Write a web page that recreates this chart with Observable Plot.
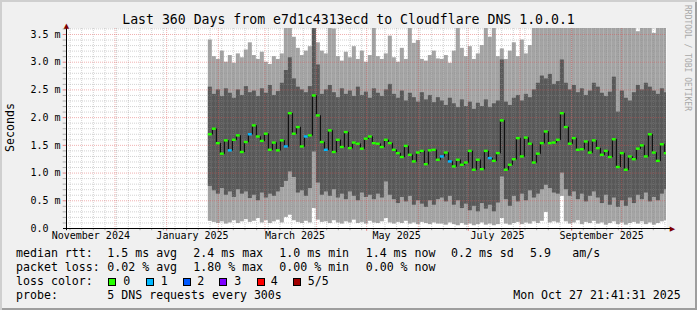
<!DOCTYPE html>
<html><head><meta charset="utf-8">
<script src="https://cdn.jsdelivr.net/npm/d3@7"></script>
<script src="https://cdn.jsdelivr.net/npm/@observablehq/plot@0.6"></script>
<style>
html,body{margin:0;padding:0;background:#f0f0f0;}
#wrap{position:relative;width:697px;height:310px;background:#f0f0f0;overflow:hidden;font-family:"DejaVu Sans Mono",monospace;color:#000;box-shadow:inset 2px 2px 0 #cfcfcf, inset -2px -2px 0 #9e9e9e;}
#chart{position:absolute;left:0;top:0;}
.t{position:absolute;white-space:pre;line-height:1;}
.lg{font-size:11.6px;}
.box{position:absolute;width:6px;height:6px;border:1px solid #000;top:278px;}
</style></head><body>
<div id="wrap">
  <div id="chart"></div>
  <div class="t" style="left:0;width:697px;text-align:center;top:12.8px;font-size:13.2px;">Last 360 Days from e7d1c4313ecd to Cloudflare DNS 1.0.0.1</div>
  <div class="t lg" style="left:5.2px;top:152px;transform:rotate(-90deg);transform-origin:0 0;">Seconds</div>
  <div class="t" style="left:691.3px;top:5px;font-size:8px;color:#a8a8a8;transform:rotate(90deg);transform-origin:0 0;">RRDTOOL / TOBI OETIKER</div>
  <div id="legend"></div>
</div>
<script>
// ---------------- data ----------------
const xStart = new Date("2024-11-01T21:41:31Z");
const xEnd = new Date("2025-10-27T21:41:31Z");
const firstBin = new Date("2025-01-26T00:00:00Z");
const stepHours = 57.6;

// median rtt (ms) per bin
const median = [1.70,1.80,1.54,1.35,1.59,1.41,1.60,1.68,1.38,1.56,
 1.70,1.86,1.66,1.58,1.71,1.42,1.55,1.41,1.59,1.48,
 2.08,1.71,1.83,1.48,1.66,1.68,2.40,2.04,1.56,1.42,
 1.77,1.38,1.60,1.47,1.74,1.45,1.55,1.53,1.44,1.62,
 1.66,1.54,1.53,1.47,1.60,1.54,1.42,1.36,1.29,1.49,
 1.33,1.21,1.37,1.40,1.16,1.41,1.42,1.24,1.30,1.37,
 1.21,1.12,1.24,1.15,1.19,1.40,1.06,1.24,1.07,1.40,
 1.27,1.22,1.36,1.95,1.06,1.15,1.25,1.63,1.30,1.64,
 1.53,1.19,1.35,1.54,1.75,1.54,1.55,1.60,2.08,1.83,
 1.53,1.63,1.42,1.43,1.57,1.37,1.59,1.45,1.33,1.40,
 1.29,1.61,1.11,1.36,1.06,1.30,1.25,1.44,1.50,1.30,
 1.70,1.37,1.22,1.52,1.36];

// lost pings per bin (of 5)
const loss = [0,0,0,0,0,1,0,0,0,0, 1,0,0,0,0,0,0,0,0,1,
 0,0,0,0,1,0,0,0,0,1, 0,0,0,0,0,0,0,0,0,0,
 0,0,0,0,0,0,0,0,0,0, 0,0,0,0,0,0,0,0,1,0,
 1,0,0,0,0,0,0,0,0,0, 1,0,0,0,0,0,0,0,0,0,
 0,0,0,0,0,0,0,0,0,0, 0,0,0,0,0,0,0,0,0,0,
 0,0,0,0,0,0,0,0,0,0, 0,0,0,0,0];

// smoke: 5 sorted pings -> fastest (p1), 2nd (p2), 4th (p4), slowest (p5)
const pingMax = [3.40,3.10,3.05,3.20,3.00,3.12,2.98,3.15,3.08,3.22, 3.35,3.12,3.05,3.18,3.00,2.96,3.10,3.05,3.15,3.80,
 3.80,3.45,3.25,3.12,3.20,3.28,3.80,3.35,3.20,
 3.15,3.80,3.60,3.10,3.02,3.18,3.08,3.28,3.05,3.20, 3.00,3.12,3.80,3.10,3.05,3.15,3.47,3.08,3.00,3.25,
 3.05,3.70,3.34,3.39,3.05,3.02,3.12,3.20,3.06,
 3.05,3.12,2.98,3.20,3.70,3.25,3.10,3.28,3.05,3.15, 3.30,3.70,3.45,3.70,3.10,3.24,3.05,3.20,3.35,3.10,
 3.40,3.15,3.30,3.70,3.80,3.80,3.80,3.80,3.80,
 3.80,3.80,3.80,3.80,3.80,3.80,3.80,3.80,3.80,3.80, 3.80,3.80,3.80,3.80,3.80,3.80,3.80,3.80,3.80,3.80,
 3.55,3.80,3.80,3.80,3.52,3.80,3.80,3.80];
const pingHigh = [2.55,2.42,2.50,2.38,2.52,2.44,2.35,2.50,2.40,2.56, 2.45,2.48,2.38,2.52,2.44,2.58,2.40,2.47,2.62,2.85,
 3.08,2.70,2.55,2.50,2.45,2.56,3.80,2.95,2.42,
 2.50,2.58,2.45,2.36,2.52,2.42,2.48,2.38,2.55,2.40, 2.46,2.35,2.52,2.44,2.38,2.50,2.60,2.42,2.35,2.48,
 2.30,2.44,2.36,2.28,2.45,2.32,2.40,2.27,2.36,
 2.30,2.22,2.35,2.25,2.18,2.32,2.20,2.28,2.15,2.26, 2.20,2.32,2.18,2.25,2.30,3.04,2.28,2.22,2.35,2.40,
 2.30,2.42,2.36,2.50,2.62,2.75,2.70,2.78,2.60,
 2.65,3.04,2.62,2.50,2.58,2.45,2.52,2.40,2.48,2.62, 2.55,2.44,2.38,2.46,2.73,2.10,2.48,2.35,2.30,2.45,
 2.58,2.50,2.62,2.55,2.48,2.42,2.52,2.45];
const pingLow = [0.76,0.68,0.62,0.72,0.60,0.66,0.56,0.70,0.62,0.66, 0.54,0.60,0.50,0.64,0.55,0.62,0.58,0.66,0.74,0.85,
 1.02,0.92,0.64,0.68,0.58,0.72,1.38,0.82,0.60,
 0.66,0.58,0.70,0.55,0.62,0.52,0.66,0.58,0.50,0.64, 0.56,0.60,0.52,0.62,0.55,0.84,0.60,0.52,0.45,0.56,
 0.48,0.58,0.42,0.50,0.44,0.38,0.50,0.42,0.52,
 0.55,0.48,0.58,0.42,0.50,0.36,0.44,0.32,0.40,0.30, 0.45,0.35,0.42,0.30,0.46,0.93,0.52,0.40,0.58,0.48,
 0.62,0.50,0.68,0.55,0.62,0.70,0.78,0.72,0.64,
 0.62,1.00,0.70,0.58,0.66,0.52,0.62,0.48,0.58,0.66, 0.55,0.45,0.60,0.42,0.55,0.38,0.50,0.40,0.55,0.45,
 0.60,0.52,0.64,0.48,0.56,0.50,0.62,0.70];
const pingMin = [0.13,0.11,0.09,0.12,0.08,0.10,0.14,0.09,0.12,0.16, 0.11,0.13,0.18,0.10,0.14,0.09,0.12,0.15,0.10,0.20,
 0.24,0.14,0.11,0.09,0.13,0.10,0.36,0.15,0.11,
 0.12,0.09,0.14,0.10,0.08,0.12,0.10,0.15,0.09,0.11, 0.08,0.13,0.10,0.09,0.12,0.18,0.10,0.08,0.11,0.09,
 0.13,0.08,0.10,0.07,0.11,0.09,0.07,0.10,0.08,
 0.08,0.06,0.10,0.07,0.05,0.09,0.06,0.08,0.05,0.07, 0.10,0.06,0.08,0.05,0.07,0.18,0.08,0.06,0.09,0.11,
 0.07,0.10,0.08,0.12,0.09,0.13,0.29,0.10,0.12,
 0.10,0.58,0.12,0.08,0.10,0.14,0.07,0.11,0.09,0.13, 0.08,0.10,0.06,0.09,0.12,0.07,0.10,0.06,0.09,0.11,
 0.08,0.12,0.07,0.10,0.06,0.09,0.12,0.14];

const lossColors = ["#26ff00","#00b8ff","#0059ff","#7e00ff","#ff0000","#a10000"];
const lossLabels = ["0","1","2","3","4","5/5"];

const yTickValues = [0,0.5,1.0,1.5,2.0,2.5,3.0,3.5];
const yTickLabels = ["0.0","0.5 m","1.0 m","1.5 m","2.0 m","2.5 m","3.0 m","3.5 m"];
const xLabelDates = ["2024-11-16T12:00:00Z","2025-01-16T12:00:00Z","2025-03-19T00:00:00Z","2025-05-19T00:00:00Z","2025-07-18T12:00:00Z","2025-09-19T00:00:00Z"];
const xLabelTexts = ["November 2024","January 2025","March 2025","May 2025","July 2025","September 2025"];

const statsRtt = ["median rtt:","1.5 ms avg","2.4 ms max","1.0 ms min","1.4 ms now","0.2 ms sd","5.9","am/s"];
const statsLoss = ["packet loss:","0.02 % avg","1.80 % max","0.00 % min","0.00 % now"];
const probeText = ["probe:","5 DNS requests every 300s"];
const stamp = "Mon Oct 27 21:41:31 2025";

// ---------------- build ----------------
const stepMs = stepHours * 3600e3;
const rows = median.map((m, i) => ({
  start: new Date(+firstBin + i * stepMs),
  end: new Date(+firstBin + (i + 1) * stepMs),
  mid: new Date(+firstBin + (i + 0.5) * stepMs),
  median: m, loss: loss[i],
  p1: pingMin[i], p2: pingLow[i], p4: pingHigh[i], p5: pingMax[i]
}));

const yMax = 3.608;
const yMinor = d3.range(1, 37).map(k => k / 10).filter(v => Math.round(v * 10) % 5 !== 0);
const yMajor = yTickValues.filter(v => v > 0);
const xMajor = d3.utcMonth.range(xStart, xEnd);
const xMinor = d3.utcMonday.range(xStart, xEnd);
const tickLeft = new Date(+xStart - 2 * 864e5);
const axisLeft = new Date(+xStart - 1.8 * 864e5);
const axisRight = new Date(+xEnd + 3.5 * 864e5);

const yLabels = yTickValues.map((v, i) => ({v, label: yTickLabels[i]}));
const xLabels = xLabelDates.map((d, i) => ({date: new Date(d), label: xLabelTexts[i]}));

const gridGray = "#8f8f8f", gridRed = "#de5151";

const chart = Plot.plot({
  width: 697, height: 245,
  marginLeft: 66, marginRight: 31, marginTop: 28, marginBottom: 17,
  x: {type: "utc", domain: [xStart, xEnd], axis: null},
  y: {domain: [0, yMax], axis: null},
  style: {background: "transparent", fontFamily: "'DejaVu Sans Mono', monospace", overflow: "visible"},
  marks: [
    Plot.frame({fill: "white", stroke: "none"}),
    Plot.rect(rows, {x1: "start", x2: "end", y1: "p1", y2: "p5", fill: "#a4a4a4", clip: true}),
    Plot.rect(rows, {x1: "start", x2: "end", y1: "p2", y2: "p4", fill: "#585858", clip: true}),
    Plot.ruleX(xMinor, {stroke: gridGray, strokeOpacity: 0.4, strokeDasharray: "1,1"}),
    Plot.ruleY(yMinor, {stroke: gridGray, strokeOpacity: 0.4, strokeDasharray: "1,1"}),
    Plot.ruleX(xMajor, {stroke: gridRed, strokeOpacity: 0.45, strokeDasharray: "1,1"}),
    Plot.ruleY(yMajor, {stroke: gridRed, strokeOpacity: 0.45, strokeDasharray: "1,1"}),
    Plot.line(rows, {x: "mid", y: "median", curve: "step", stroke: "#000", strokeWidth: 1, clip: true}),
    Plot.ruleY(rows, {x1: "start", x2: "end", y: "median", stroke: d => lossColors[d.loss], strokeWidth: 2.4, clip: true}),
    // ticks
    Plot.ruleX(xMinor, {y1: 0, y2: -0.04, stroke: gridGray, strokeOpacity: 0.7}),
    Plot.ruleX(xMajor, {y1: 0, y2: -0.05, stroke: gridRed, strokeOpacity: 0.7}),
    Plot.ruleY(yMinor, {x1: tickLeft, x2: xStart, stroke: gridGray, strokeOpacity: 0.7}),
    Plot.ruleY(yMajor, {x1: tickLeft, x2: xStart, stroke: gridRed, strokeOpacity: 0.7}),
    // axes
    Plot.ruleY([0], {x1: axisLeft, x2: axisRight, stroke: "#000"}),
    Plot.ruleX([xStart], {y1: -0.04, y2: 3.66, stroke: "#000"}),
    Plot.text([{x: xStart, y: yMax}], {x: "x", y: "y", text: () => "\u25B2", fill: "#7f0000", fontSize: 7, fontFamily: "DejaVu Sans", dy: -3}),
    Plot.text([{x: axisRight, y: 0}], {x: "x", y: "y", text: () => "\u25B6", fill: "#7f0000", fontSize: 7, fontFamily: "DejaVu Sans", dx: 0}),
    // tick labels
    Plot.text(yLabels, {y: "v", text: "label", frameAnchor: "left", dx: -36, textAnchor: "start", fontSize: 10, fill: "#000"}),
    Plot.text(xLabels, {x: "date", text: "label", frameAnchor: "bottom", dy: 10, fontSize: 10, fill: "#000"})
  ]
});
document.getElementById("chart").appendChild(chart);

// ---------------- legend ----------------
const lg = document.getElementById("legend");
function put(text, left, baseline, extra) {
  const d = document.createElement("div");
  d.className = "t lg";
  d.textContent = text;
  d.style.left = left + "px";
  d.style.top = (baseline - 9.81) + "px";
  if (extra) Object.assign(d.style, extra);
  lg.appendChild(d);
}
const rttX = [16, 107.3, 193.3, 279.3, 365.7, 451, 530, 572.3];
statsRtt.forEach((s, i) => put(s, rttX[i], 258));
statsLoss.forEach((s, i) => put(s, rttX[i], 272));
put("loss color:", 16, 286);
const boxX = [108.3, 145.7, 182.7, 219.3, 256.7, 293.3];
const boxLabelX = [123.3, 160.7, 197.3, 234.3, 270.7, 307.7];
lossColors.forEach((c, i) => {
  const b = document.createElement("div");
  b.className = "box";
  b.style.left = boxX[i] + "px";
  b.style.background = c;
  lg.appendChild(b);
  put(lossLabels[i], boxLabelX[i], 286);
});
put(probeText[0], 16, 300);
put(probeText[1], 107.3, 300);
const st = document.createElement("div");
st.className = "t lg";
st.textContent = stamp;
st.style.right = "16.3px";
st.style.top = (300 - 9.81) + "px";
lg.appendChild(st);
</script>
</body></html>
